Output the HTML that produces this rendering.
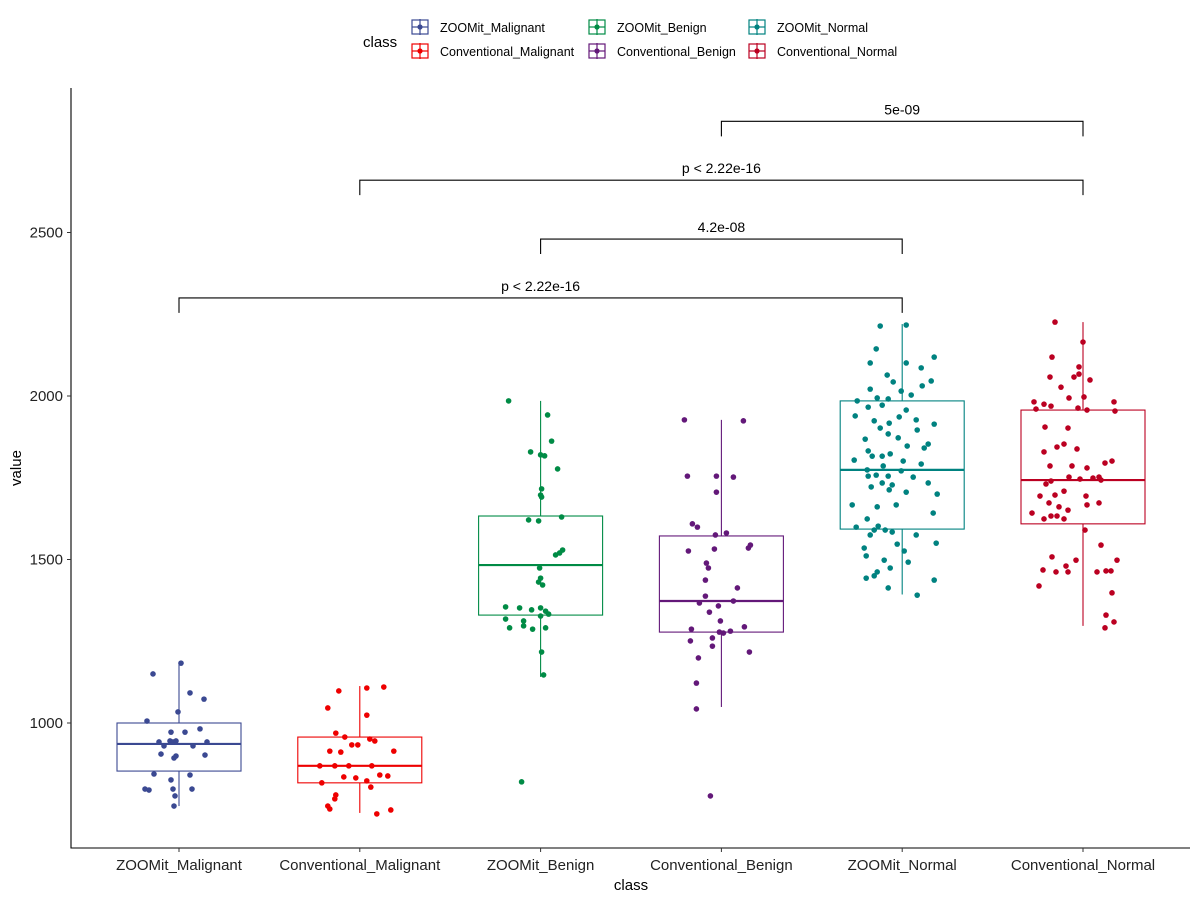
<!DOCTYPE html>
<html><head><meta charset="utf-8"><style>
body{margin:0;background:#fff}
svg{font-family:"Liberation Sans",Arial,sans-serif}
</style></head><body>
<svg id="chart" width="1200" height="900" xmlns="http://www.w3.org/2000/svg"></svg>
<script>
const categories=["ZOOMit_Malignant","Conventional_Malignant","ZOOMit_Benign","Conventional_Benign","ZOOMit_Normal","Conventional_Normal"];
const colors=["#3B4992","#EE0000","#008B45","#631879","#008280","#BB0021"];
const yTicks=[1000,1500,2000,2500];
// box stats: [lowerWhisker, q1, median, q3, upperWhisker]
const boxZM=[746,853,936,1000,1183];
const boxCM=[725,817,869,957,1113];
const boxZB=[1141,1330,1483,1633,1985];
const boxCB=[1049,1278,1373,1572,1927];
const boxZN=[1393,1593,1774,1985,2220];
const boxCN=[1297,1609,1743,1957,2226];
const ptsZM=[1150,1183,1092,1073,1006,1034,982,972,972,942,930,945,942,945,942,930,905,899,893,902,844,841,826,798,798,798,795,777,746];
const ptsCM=[1098,1107,1110,1046,1024,969,957,951,933,945,914,911,933,869,869,869,914,869,841,832,838,835,823,817,804,780,768,746,737,734,722];
const ptsZB=[1985,1942,1862,1829,1820,1817,1777,1716,1697,1691,1621,1618,1630,1529,1520,1514,1474,1443,1431,1422,1355,1352,1346,1352,1342,1333,1318,1312,1327,1297,1291,1287,1291,1217,1147,820];
const ptsCB=[1927,1755,1752,1755,1706,1609,1599,1581,1575,1544,1535,1532,1526,1489,1474,1437,1413,1388,1373,1367,1358,1339,1312,1294,1287,1281,1278,1275,1251,1260,1235,1217,1199,1122,1043,777,1924];
const ptsZN=[2214,2217,2144,2101,2119,2101,2064,2086,2043,2046,2021,2031,2015,1991,2003,1985,1994,1972,1966,1957,1939,1936,1924,1917,1914,1927,1902,1896,1884,1872,1868,1853,1847,1841,1832,1816,1823,1816,1804,1801,1786,1792,1774,1771,1758,1755,1755,1752,1734,1728,1734,1713,1700,1722,1706,1667,1667,1661,1624,1642,1602,1590,1584,1590,1575,1575,1550,1547,1535,1511,1526,1498,1474,1450,1462,1443,1492,1437,1413,1391,1599];
const ptsCN=[2226,2119,2165,2089,2058,2067,2049,2058,2027,1982,1975,1994,1997,1963,1957,1982,1969,1954,1960,1905,1902,1853,1844,1838,1829,1786,1786,1780,1795,1801,1749,1743,1752,1740,1731,1746,1752,1709,1694,1697,1694,1673,1661,1651,1642,1667,1673,1624,1633,1633,1624,1590,1544,1498,1508,1498,1480,1468,1419,1462,1462,1465,1465,1462,1398,1330,1291,1309];
// horizontal jitter in px (not data)
const jitZM=[-26,2,11,25,-32,-1,21,6,-8,-20,-15,-9,-6,-3,28,14,-18,-3,-5,26,-25,11,-8,-34,-6,13,-30,-4,-5];
const jitCM=[-21,7,24,-32,7,-24,-15,10,-8,15,-30,-19,-2,-25,-11,12,34,-40,20,-4,28,-16,7,-38,11,-24,-25,-32,-30,31,17];
const jitZB=[-32,7,11,-10,0,4,17,1,0,1,-12,-2,21,22,19,15,-1,0,-2,2,-35,-21,-9,0,5,8,-35,-17,0,-17,-31,-8,5,1,3,-19];
const jitCB=[-37,-5,12,-34,-5,-29,-24,5,-6,29,27,-7,-33,-15,-13,-16,16,-16,12,-22,-3,-12,-1,23,-30,9,-2,2,-31,-9,-9,28,-23,-25,-25,-11,22];
const jitZN=[-22,4,-26,4,32,-32,-15,19,-9,29,-32,20,-1,-14,9,-45,-25,-20,-34,4,-47,-3,-28,-13,32,14,-22,15,-14,-4,-37,26,5,22,-34,-20,-12,-30,-48,1,-19,19,-35,-1,-26,-14,-34,11,-20,-10,26,-13,35,-31,4,-6,-50,-25,-35,31,-24,-28,-10,-17,-32,14,34,-5,-38,-36,2,-18,-12,-28,-25,-36,6,32,-14,15,-46];
const jitCN=[-28,-31,0,-4,-33,-4,7,-9,-22,-49,-39,-14,1,-5,4,31,-32,32,-47,-38,-15,-19,-26,-6,-39,-33,-11,4,22,29,10,18,-14,-32,-37,-3,16,-19,-43,-28,3,-34,-24,-15,-51,4,16,-39,-32,-26,-19,2,18,34,-31,-7,-17,-40,-44,-15,14,23,28,-27,29,23,22,31];
const comparisons=[[0,4,"p < 2.22e-16",2300],[2,4,"4.2e-08",2480],[1,5,"p < 2.22e-16",2660],[3,5,"5e-09",2840]];

const boxes=[boxZM,boxCM,boxZB,boxCB,boxZN,boxCN];
const pts=[ptsZM,ptsCM,ptsZB,ptsCB,ptsZN,ptsCN];
const jits=[jitZM,jitCM,jitZB,jitCB,jitZN,jitCN];
const svg=document.getElementById('chart');
const NS="http://www.w3.org/2000/svg";
const yS=v=>723-(v-1000)*0.327;
const xS=i=>179+i*180.8;
function el(tag,a,txt){const e=document.createElementNS(NS,tag);for(const k in a)e.setAttribute(k,a[k]);if(txt!==undefined)e.textContent=txt;svg.appendChild(e);return e;}

// axes
let e=el('line',{x1:71,y1:88,x2:71,y2:848.5,stroke:'#000','stroke-width':1.1});


e=el('line',{x1:71,y1:848,x2:1190,y2:848,stroke:'#000','stroke-width':1.1});


yTicks.forEach(t=>{
  const y=yS(t);
  let l=el('line',{x1:67,y1:y,x2:71,y2:y,stroke:'#333'});
  
  
  let tx=el('text',{x:63,y:y+5,'text-anchor':'end','font-size':15,fill:'#222'},t);
  
  
});
categories.forEach((c,i)=>{
  const x=xS(i);
  let l=el('line',{x1:x,y1:848,x2:x,y2:852,stroke:'#333'});
  
  
  let tx=el('text',{x:x,y:870,'text-anchor':'middle','font-size':15,fill:'#222'},c);
  
  
});
e=el('text',{x:631,y:890,'text-anchor':'middle','font-size':15},'class');


e=el('text',{x:21,y:468,'text-anchor':'middle','font-size':15,transform:'rotate(-90 21 468)'},'value');



// boxes
boxes.forEach((b,i)=>{
  const x=xS(i),c=colors[i],hw=62;
  let w=el('line',{x1:x,y1:yS(b[0]),x2:x,y2:yS(b[1]),stroke:c,'stroke-width':1.1});
  
  
  w=el('line',{x1:x,y1:yS(b[3]),x2:x,y2:yS(b[4]),stroke:c,'stroke-width':1.1});
  
  
  let r=el('rect',{x:x-hw,y:yS(b[3]),width:hw*2,height:yS(b[1])-yS(b[3]),fill:'#fff',stroke:c,'stroke-width':1.1});
  
  
  let m=el('line',{x1:x-hw,y1:yS(b[2]),x2:x+hw,y2:yS(b[2]),stroke:c,'stroke-width':2.2});
  
  
});
// points
pts.forEach((p,i)=>{
  p.forEach((v,j)=>{
    const d=el('circle',{cx:xS(i)+(jits[i][j]||0),cy:yS(v),r:2.8,fill:colors[i]});
    
    
  });
});
// brackets
comparisons.forEach(cmp=>{
  const x1=xS(cmp[0]),x2=xS(cmp[1]),y=yS(cmp[3]);
  const p=el('path',{d:`M${x1},${y+15}V${y}H${x2}V${y+15}`,fill:'none',stroke:'#000','stroke-width':1.1});
  
  
  const t=el('text',{x:(x1+x2)/2,y:y-7,'text-anchor':'middle','font-size':14},cmp[2]);
  
  
});
// legend
e=el('text',{x:363,y:47,'font-size':15},'class');


const legPos=[[411,27],[411,51],[588,27],[588,51],[748,27],[748,51]];
const legOrder=[0,1,2,3,4,5];
legOrder.forEach((ci,k)=>{
  const [lx,ly]=legPos[k],c=colors[ci];
  const g=document.createElementNS(NS,'g');
  
  
  svg.appendChild(g);
  g.innerHTML=`<rect x="${lx+1}" y="${ly-7}" width="16" height="14" fill="#fff" stroke="${c}" stroke-width="1.2"/><line x1="${lx+9}" y1="${ly-8}" x2="${lx+9}" y2="${ly+8}" stroke="${c}" stroke-width="1.2"/><line x1="${lx+1}" y1="${ly}" x2="${lx+17}" y2="${ly}" stroke="${c}" stroke-width="1.2"/><circle cx="${lx+9}" cy="${ly}" r="2.6" fill="${c}"/><text x="${lx+29}" y="${ly+5}" font-size="12.5">${categories[ci]}</text>`;
});
</script>
</body></html>
